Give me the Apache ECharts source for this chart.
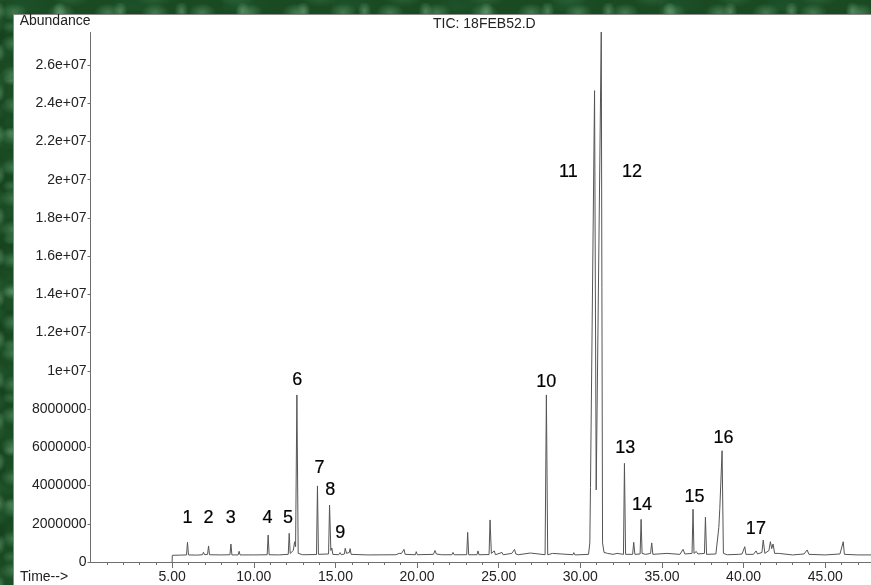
<!DOCTYPE html>
<html>
<head>
<meta charset="utf-8">
<script src="https://cdn.jsdelivr.net/npm/echarts@6/dist/echarts.min.js"></script>
<style>
  html, body { margin: 0; padding: 0; }
  body {
    width: 871px; height: 585px; overflow: hidden; position: relative;
    background-color: #1a4a22;
    background-image:
      radial-gradient(ellipse 14px 9px at 30% 40%, rgba(100,160,112,0.55), rgba(100,160,112,0) 100%),
      radial-gradient(ellipse 20px 12px at 70% 60%, rgba(60,120,75,0.6), rgba(60,120,75,0) 100%),
      radial-gradient(ellipse 7px 10px at 50% 20%, rgba(140,195,150,0.45), rgba(140,195,150,0) 100%),
      radial-gradient(ellipse 30px 16px at 15% 80%, rgba(30,85,45,0.7), rgba(30,85,45,0) 100%),
      radial-gradient(ellipse 9px 6px at 85% 15%, rgba(115,175,128,0.5), rgba(115,175,128,0) 100%),
      radial-gradient(ellipse 40px 25px at 60% 50%, rgba(15,60,25,0.7), rgba(15,60,25,0) 100%);
    background-size: 47px 31px, 83px 29px, 61px 41px, 109px 23px, 37px 53px, 131px 71px;
    background-position: 0 0, 13px 7px, 29px 3px, 5px 11px, 17px 19px, 41px 2px;
  }
  #panel {
    position: absolute; left: 13px; top: 14px; width: 870px; height: 580px;
    background: #ffffff; border-left: 1px solid #8a8a8a; border-top: 1px solid #8a8a8a;
  }
  #chart { position: absolute; left: 0; top: 0; width: 871px; height: 585px; }
</style>
</head>
<body>
<div id="panel"></div>
<div id="chart"></div>
<script>
// Retention time (min) of each trace point
const ticTime = [
  5.00, 5.01, 5.50, 5.88, 5.94, 6.00, 6.50, 6.85, 6.92, 6.98, 7.17, 7.23, 7.29,
  8.00, 8.54, 8.60, 8.66, 9.04, 9.10, 9.16, 10.00, 10.82, 10.88, 10.94, 11.50,
  12.11, 12.17, 12.23, 12.42, 12.50, 12.56, 12.64, 12.72, 13.00, 13.84, 13.90, 13.96,
  14.58, 14.64, 14.72, 14.78, 14.84, 15.20, 15.29, 15.36, 15.55, 15.60, 15.68, 15.85,
  15.90, 15.96, 17.00, 18.70, 18.90, 18.97, 19.05, 19.20, 19.27, 19.90, 19.95, 20.02,
  21.00, 21.10, 21.18, 21.50, 22.13, 22.20, 22.27, 23.04, 23.10, 23.16, 23.67, 23.73,
  23.79, 24.41, 24.47, 24.55, 24.73, 24.80, 25.20, 25.27, 25.80, 25.97, 26.05, 26.20,
  26.94, 27.00, 27.84, 27.92, 28.00, 28.30, 28.40, 29.55, 29.60, 29.67, 30.50, 30.58,
  30.62, 30.87, 30.97, 31.28, 31.36, 31.45, 31.67, 31.75, 32.00, 32.25, 32.30, 32.64,
  32.70, 32.77, 33.20, 33.27, 33.34, 33.66, 33.72, 33.78, 34.00, 34.30, 34.37, 34.44,
  35.30, 35.36, 36.10, 36.29, 36.40, 36.84, 36.90, 36.96, 37.10, 37.20, 37.60, 37.66,
  37.73, 38.30, 38.48, 38.54, 38.68, 38.76, 39.00, 39.70, 39.80, 39.90, 40.07, 40.14,
  40.60, 40.76, 40.85, 41.12, 41.20, 41.30, 41.55, 41.64, 41.72, 41.80, 41.90, 42.15,
  42.25, 43.00, 43.70, 43.89, 44.00, 45.00, 45.90, 46.10, 46.17, 47.00, 47.80
];
// Abundance of each trace point
const ticAbundance = [
  0, 0.35e6, 0.36e6, 0.37e6, 1.03e6, 0.37e6, 0.36e6, 0.38e6, 0.51e6, 0.38e6, 0.40e6, 0.84e6, 0.38e6,
  0.37e6, 0.38e6, 0.94e6, 0.37e6, 0.37e6, 0.56e6, 0.37e6, 0.37e6, 0.38e6, 1.41e6, 0.38e6, 0.37e6,
  0.40e6, 1.50e6, 0.45e6, 0.60e6, 1.06e6, 0.80e6, 8.74e6, 0.45e6, 0.38e6, 0.39e6, 3.98e6, 0.40e6,
  0.42e6, 2.98e6, 0.60e6, 0.73e6, 0.40e6, 0.38e6, 0.49e6, 0.38e6, 0.42e6, 0.72e6, 0.45e6, 0.50e6,
  0.70e6, 0.40e6, 0.37e6, 0.38e6, 0.45e6, 0.54e6, 0.45e6, 0.66e6, 0.40e6, 0.38e6, 0.54e6, 0.38e6,
  0.40e6, 0.60e6, 0.42e6, 0.38e6, 0.38e6, 0.50e6, 0.38e6, 0.38e6, 1.55e6, 0.38e6, 0.38e6, 0.58e6,
  0.38e6, 0.39e6, 2.20e6, 0.45e6, 0.58e6, 0.38e6, 0.50e6, 0.38e6, 0.45e6, 0.66e6, 0.42e6, 0.38e6,
  0.47e6, 0.37e6, 0.38e6, 8.74e6, 0.38e6, 0.45e6, 0.37e6, 0.38e6, 0.49e6, 0.37e6, 0.40e6, 1.00e6,
  3.90e6, 24.66e6, 3.77e6, 27.74e6, 1.00e6, 0.50e6, 0.45e6, 0.38e6, 0.40e6, 0.45e6, 0.38e6, 0.40e6,
  5.16e6, 0.40e6, 0.40e6, 1.03e6, 0.40e6, 0.42e6, 2.23e6, 0.45e6, 0.40e6, 0.45e6, 1.00e6, 0.40e6,
  0.45e6, 0.37e6, 0.40e6, 0.66e6, 0.42e6, 0.45e6, 2.76e6, 0.45e6, 0.55e6, 0.42e6, 0.45e6, 2.34e6,
  0.40e6, 0.42e6, 1.80e6, 2.80e6, 5.82e6, 0.45e6, 0.38e6, 0.40e6, 0.45e6, 0.42e6, 0.80e6, 0.40e6,
  0.40e6, 0.58e6, 0.42e6, 0.50e6, 1.15e6, 0.45e6, 0.60e6, 1.06e6, 0.70e6, 0.94e6, 0.45e6, 0.45e6,
  0.38e6, 0.37e6, 0.42e6, 0.63e6, 0.40e6, 0.37e6, 0.42e6, 1.06e6, 0.40e6, 0.37e6, 0.37e6
];
// Peak number annotations (anchor in time / abundance units)
const peakNames = ['1','2','3','4','5','6','7','8','9','10','11','12','13','14','15','16','17'];
const peakLabelTime = [5.94, 7.22, 8.59, 10.84, 12.10, 12.66, 14.02, 14.68, 15.29, 27.91, 29.27, 33.16, 32.75, 33.77, 36.99, 38.77, 40.75];
const peakLabelAbundance = [2.29e6, 2.29e6, 2.29e6, 2.29e6, 2.29e6, 9.52e6, 4.90e6, 3.77e6, 1.53e6, 9.42e6, 20.42e6, 20.40e6, 5.95e6, 2.98e6, 3.42e6, 6.47e6, 1.71e6];
// Axis ticks and labels
const yTickValues = [0, 2e6, 4e6, 6e6, 8e6, 10e6, 12e6, 14e6, 16e6, 18e6, 20e6, 22e6, 24e6, 26e6];
const xLabelValues = [5, 10, 15, 20, 25, 30, 35, 40, 45];
const xMinorTickValues = [1,2,3,4,5,6,7,8,9,10,11,12,13,14,15,16,17,18,19,20,21,22,23,24,25,26,27,28,29,30,31,32,33,34,35,36,37,38,39,40,41,42,43,44,45,46,47];

const FONT = '"Liberation Sans", Arial, sans-serif';
const X_MIN = 0, X_MAX = 47.8, Y_MAX = 27.7e6;

function yFmt(v) {
  if (v < 1e7) return String(v);
  return (v / 1e7).toString() + 'e+07';
}

const chart = echarts.init(document.getElementById('chart'), null, { renderer: 'canvas' });
const gridBox = { left: 90.5, top: 32.5, right: 0, bottom: 23 };

chart.setOption({
  animation: false,
  backgroundColor: 'transparent',
  textStyle: { fontFamily: FONT },
  grid: [
    Object.assign({ containLabel: false }, gridBox),
    Object.assign({ containLabel: false }, gridBox)
  ],
  xAxis: [
    {
      type: 'value', gridIndex: 0, min: X_MIN, max: X_MAX,
      splitLine: { show: false },
      axisLine: { show: true, lineStyle: { color: '#6e6e6e', width: 1 } },
      axisTick: { show: true, customValues: xMinorTickValues, length: 3, lineStyle: { color: '#6e6e6e' } },
      axisLabel: {
        show: true, customValues: xLabelValues, margin: 8,
        formatter: v => v.toFixed(2), color: '#222', fontSize: 14, fontFamily: FONT
      }
    },
    {
      type: 'value', gridIndex: 1, min: X_MIN, max: X_MAX,
      splitLine: { show: false },
      axisLine: { show: false },
      axisTick: { show: true, customValues: xLabelValues, length: 6, lineStyle: { color: '#6e6e6e' } },
      axisLabel: { show: false }
    }
  ],
  yAxis: [
    {
      type: 'value', gridIndex: 0, min: 0, max: Y_MAX,
      splitLine: { show: false },
      axisLine: { show: true, lineStyle: { color: '#6e6e6e', width: 1 } },
      axisTick: { show: true, customValues: yTickValues, length: 3, lineStyle: { color: '#6e6e6e' } },
      axisLabel: {
        show: true, customValues: yTickValues, margin: 4,
        formatter: yFmt, color: '#222', fontSize: 14, fontFamily: FONT
      },
      name: 'Abundance', nameLocation: 'end', nameGap: 4,
      nameTextStyle: { align: 'right', verticalAlign: 'bottom', color: '#222', fontSize: 14, fontFamily: FONT, padding: [0, 0, 0, 0] }
    },
    {
      type: 'value', gridIndex: 1, min: 0, max: Y_MAX, show: false
    }
  ],
  graphic: [
    { type: 'text', left: 433, top: 17, style: { text: 'TIC: 18FEB52.D', fill: '#222', font: '14px ' + FONT } },
    { type: 'text', left: 20, top: 570, style: { text: 'Time-->', fill: '#222', font: '14px ' + FONT } }
  ],
  series: [
    {
      type: 'line', xAxisIndex: 0, yAxisIndex: 0,
      showSymbol: false, symbol: 'none',
      lineStyle: { color: '#555555', width: 1 },
      data: ticTime.map((t, i) => [t, ticAbundance[i]])
    },
    {
      type: 'scatter', xAxisIndex: 0, yAxisIndex: 0,
      symbolSize: 0, silent: true,
      itemStyle: { opacity: 1 },
      label: {
        show: true, position: 'inside', formatter: p => p.name,
        color: '#000000', fontSize: 18, fontFamily: FONT,
        textBorderColor: '#000000', textBorderWidth: 0.2, opacity: 1
      },
      data: peakNames.map((n, i) => ({ name: n, value: [peakLabelTime[i], peakLabelAbundance[i]] }))
    }
  ]
});
</script>
</body>
</html>
